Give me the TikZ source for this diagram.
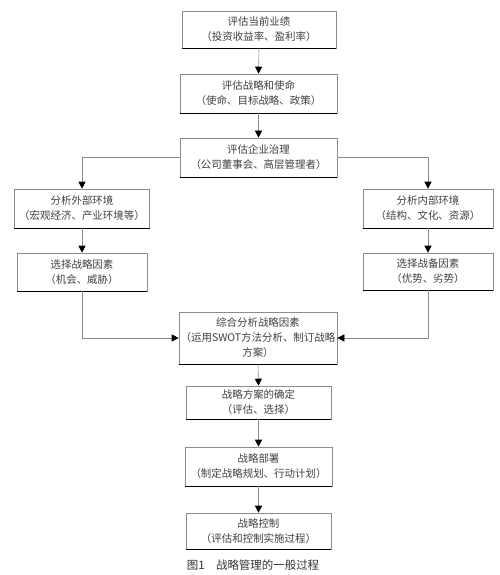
\documentclass[tikz,border=0pt]{standalone}
\usepackage{fontspec}
\newfontfamily\cjk{Noto Sans CJK SC}
\usetikzlibrary{arrows.meta}

\tikzset{
  box/.style={draw=black!45, line width=0.6pt, fill=white, align=center, inner sep=0pt,
    text=black!75, font=\cjk\fontsize{10.5}{15}\selectfont,
    append after command={(\tikzlastnode.south west) edge[draw=black, line width=1.2pt] (\tikzlastnode.south east)}},
  flow/.style={draw=black!45, line width=0.6pt, -{Triangle[width=7bp,length=7bp,black]}}
}

\begin{document}
\begin{tikzpicture}[x=1bp,y=-1bp]
\useasboundingbox (0,0) rectangle (500,575);
% middle column
\node[box,minimum width=154bp,minimum height=37bp] (perf) at (259,29.5) {评估当前业绩\\（投资收益率、盈利率）};
\node[box,minimum width=157bp,minimum height=39bp] (mission) at (258.5,93.5) {评估战略和使命\\（使命、目标战略、政策）};
\node[box,minimum width=157bp,minimum height=39bp] (govern) at (258.5,157.5) {评估企业治理\\（公司董事会、高层管理者）};
% two sides
\node[box,minimum width=135bp,minimum height=39bp] (ext) at (82,208.5) {分析外部环境\\（宏观经济、产业环境等）};
\node[box,minimum width=130bp,minimum height=38bp] (extsel) at (82,272) {选择战略因素\\（机会、威胁）};
\node[box,minimum width=130bp,minimum height=39bp] (int) at (428,208.5) {分析内部环境\\（结构、文化、资源）};
\node[box,minimum width=130bp,minimum height=37bp] (intsel) at (428,271.5) {选择战备因素\\（优势、劣势）};
% lower column
\node[box,minimum width=158bp,minimum height=52bp] (swot) at (258,338) {综合分析战略因素\\（运用SWOT方法分析、制订战略\\方案）};
\node[box,minimum width=145bp,minimum height=33bp] (choice) at (258.5,402.5) {战略方案的确定\\（评估、选择）};
\node[box,minimum width=147bp,minimum height=39bp] (deploy) at (258.5,466.5) {战略部署\\（制定战略规划、行动计划）};
\node[box,minimum width=145bp,minimum height=36bp] (control) at (258.5,531) {战略控制\\（评估和控制实施过程）};
\node[font=\cjk\fontsize{11.5}{13}\selectfont, text=black!80] (cap) at (253,565) {图1\quad 战略管理的一般过程};

\draw[flow] (perf.south) -- (mission.north);
\draw[flow] (mission.south) -- (govern.north);
\draw[flow] (govern.west) -| (ext.north);
\draw[flow] (govern.east) -| (int.north);
\draw[flow] (ext.south) -- (extsel.north);
\draw[flow] (int.south) -- (intsel.north);
\draw[flow] (extsel.south) |- (swot.west);
\draw[flow] (intsel.south) |- (swot.east);
\draw[flow] (swot.south) -- (choice.north);
\draw[flow] (choice.south) -- (deploy.north);
\draw[flow] (deploy.south) -- (control.north);
\end{tikzpicture}
\end{document}
